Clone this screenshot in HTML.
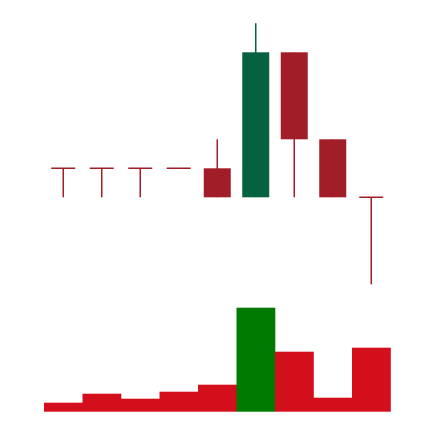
<!DOCTYPE html>
<html><head><meta charset="utf-8"><style>
html,body{margin:0;padding:0;background:#fff;width:434px;height:422px;overflow:hidden}
svg{display:block}
</style></head><body>
<svg id="chart" width="434" height="422" viewBox="0 0 434 422" xmlns="http://www.w3.org/2000/svg"></svg>
<script>
const opens  = [11, 11, 11, 11, 11, 10, 15, 12, 10];
const highs  = [11, 11, 11, 11, 12, 16, 15, 12, 10];
const lows   = [10, 10, 10, 11, 10, 10, 10, 10, 7];
const closes = [11, 11, 11, 11, 10, 15, 12, 10, 10];
const volumes = [9, 18, 13, 20, 27, 104, 60, 14, 64];

const svg = document.getElementById('chart');
const NS = 'http://www.w3.org/2000/svg';
const x0 = 44, step = 38.5;
function xBand(i){ return x0 + i*step; }
function xCenter(i){ return x0 + (i+0.5)*step; }
function yPrice(p){ return 197.3 - (p-10)*29; }
function yVol(v){ return 411.7 - v*1.0; }
function mk(tag, attrs){ const e=document.createElementNS(NS,tag); for(const k in attrs) e.setAttribute(k,attrs[k]); svg.appendChild(e); return e; }

const bodyW = 27, tickW = 24;
for(let i=0;i<opens.length;i++){
  const o=opens[i],c=closes[i],h=highs[i],l=lows[i];
  const up = c>o;
  const col = up ? '#046240' : '#a11d27';
  const cx = xCenter(i);
  const w = mk('line',{x1:cx,x2:cx,y1:yPrice(h),y2:yPrice(l),stroke:col,'stroke-width':1.5});
  
  
  if(o===c){
    const t = mk('line',{x1:cx-tickW/2,x2:cx+tickW/2,y1:yPrice(o),y2:yPrice(o),stroke:col,'stroke-width':1.5});
    
    
  } else {
    const top = yPrice(Math.max(o,c)), bot = yPrice(Math.min(o,c));
    const b = mk('rect',{x:cx-bodyW/2,y:top,width:bodyW,height:bot-top,fill:col});
    
    
  }
  const vc = up ? '#007a00' : '#d40f1c';
  const vy = yVol(volumes[i]);
  const v = mk('rect',{x:xBand(i),y:vy,width:step+0.3,height:yVol(0)-vy,fill:vc});
  
  
}
</script>
</body></html>
